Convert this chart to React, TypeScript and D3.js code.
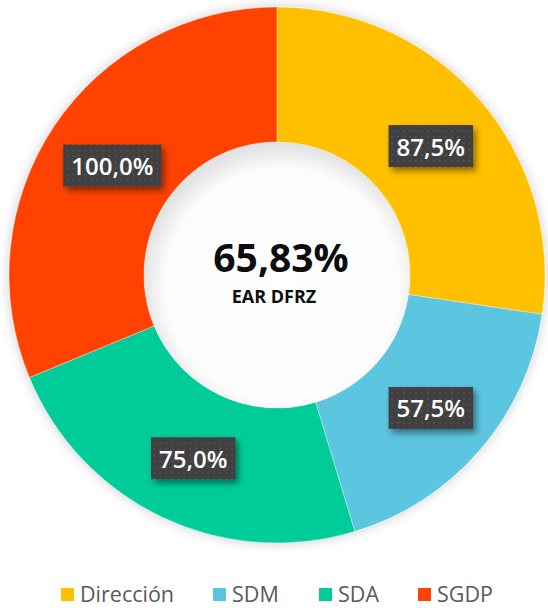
import React, { useEffect, useRef } from "react";
import * as d3 from "d3";

const categories = ["Dirección", "SDM", "SDA", "SGDP"];
const values = [87.5, 57.5, 75.0, 100.0];
const colors = ["#FFC000", "#5BC5E0", "#00CC99", "#FF4304"];
const centerValue = "65,83%";
const centerLabel = "EAR DFRZ";

const W = 548;
const H = 608;

export default function App() {
  const ref = useRef<SVGSVGElement>(null);

  useEffect(() => {
    const svg = d3.select(ref.current);
    svg.selectAll("*").remove();

    const cx = 277, cy = 275, outerR = 268, innerR = 133;
    const locale = d3.formatLocale({ decimal: ",", thousands: ".", grouping: [3], currency: ["", "€"] });
    const fmt = locale.format(".1f");

    const defs = svg.append("defs");
    const sh = defs.append("filter").attr("id", "ringShadow").attr("x", "-20%").attr("y", "-20%").attr("width", "140%").attr("height", "140%");
    sh.append("feDropShadow").attr("dx", 0).attr("dy", 0).attr("stdDeviation", 6).attr("flood-color", "#000").attr("flood-opacity", 0.2);

    const lsh = defs.append("filter").attr("id", "lblShadow").attr("x", "-20%").attr("y", "-30%").attr("width", "150%").attr("height", "170%");
    lsh.append("feDropShadow").attr("dx", 3).attr("dy", 4).attr("stdDeviation", 3).attr("flood-color", "#000").attr("flood-opacity", 0.45);

    const pat = defs.append("pattern").attr("id", "dots").attr("width", 6).attr("height", 6).attr("patternUnits", "userSpaceOnUse");
    pat.append("rect").attr("width", 6).attr("height", 6).attr("fill", "#3f3f3f");
    pat.append("rect").attr("x", 2).attr("y", 2).attr("width", 2).attr("height", 2).attr("fill", "#515151");

    const hole = defs.append("radialGradient").attr("id", "holeGrad").attr("cx", "52%").attr("cy", "54%").attr("r", "52%");
    hole.append("stop").attr("offset", "0%").attr("stop-color", "#ffffff");
    hole.append("stop").attr("offset", "85%").attr("stop-color", "#fcfcfc");
    hole.append("stop").attr("offset", "100%").attr("stop-color", "#e4e4e4");

    const pie = d3.pie<number>().sort(null).value((d) => d);
    const arcs = pie(values);
    const arc = d3.arc<d3.PieArcDatum<number>>().innerRadius(innerR).outerRadius(outerR);
    const labelArc = d3.arc<d3.PieArcDatum<number>>().innerRadius((innerR + outerR) / 2).outerRadius((innerR + outerR) / 2);

    const g = svg.append("g").attr("transform", `translate(${cx},${cy})`);
    const ring = g.append("g").attr("filter", "url(#ringShadow)");
    ring.selectAll("path").data(arcs).enter().append("path")
      .attr("d", arc as any)
      .attr("fill", (_, i) => colors[i])
      .attr("stroke", "#ffffff")
      .attr("stroke-opacity", 0.35)
      .attr("stroke-width", 1);

    g.append("circle").attr("r", innerR).attr("fill", "url(#holeGrad)");

    // labels
    const lg = g.append("g");
    arcs.forEach((a, i) => {
      const [lx, ly] = labelArc.centroid(a);
      const grp = lg.append("g").attr("transform", `translate(${lx + 2},${ly + 2})`);
      const rect = grp.append("rect").attr("fill", "url(#dots)").attr("filter", "url(#lblShadow)");
      const t = grp.append("text")
        .attr("text-anchor", "middle")
        .attr("dominant-baseline", "central")
        .attr("font-family", "'Open Sans', sans-serif")
        .attr("font-weight", 600)
        .attr("font-size", 24)
        .attr("fill", "#ffffff")
        .text(fmt(values[i]) + "%");
      const bb = (t.node() as SVGTextElement).getBBox();
      const pw = 8, h = 42;
      rect.attr("x", -bb.width / 2 - pw).attr("y", -h / 2).attr("width", bb.width + 2 * pw).attr("height", h);
    });

    // center text
    g.append("text")
      .attr("x", 4).attr("y", -3)
      .attr("text-anchor", "middle")
      .attr("font-family", "'Open Sans', sans-serif")
      .attr("font-weight", 700)
      .attr("font-size", 39)
      .attr("fill", "#0d0d0d")
      .text(centerValue);
    g.append("text")
      .attr("x", -3).attr("y", 28)
      .attr("text-anchor", "middle")
      .attr("font-family", "'Open Sans', sans-serif")
      .attr("font-weight", 700)
      .attr("font-size", 18)
      .attr("fill", "#0d0d0d")
      .text(centerLabel);

    // legend
    const legendX = [61, 213, 319, 418];
    const leg = svg.append("g");
    categories.forEach((c, i) => {
      const it = leg.append("g").attr("transform", `translate(${legendX[i]},588)`);
      it.append("rect").attr("width", 13).attr("height", 13).attr("fill", colors[i]);
      it.append("text")
        .attr("x", 19).attr("y", 14)
        .attr("font-family", "'Open Sans', sans-serif")
        .attr("font-size", 21.5)
        .attr("fill", "#595959")
        .text(c);
    });
  }, []);

  return (
    <svg
      ref={ref}
      width={W}
      height={H}
      style={{ position: "absolute", left: 0, top: 0, background: "#ffffff", display: "block" }}
    />
  );
}
